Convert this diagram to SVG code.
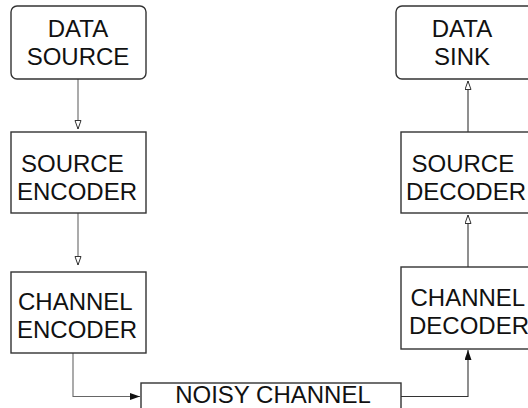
<svg xmlns="http://www.w3.org/2000/svg" width="528" height="408" viewBox="0 0 528 408">
<style>
.box{fill:#fff;stroke:#333;stroke-width:1.4}
.t{font-family:"Liberation Sans",Arial,sans-serif;font-size:24px;fill:#111}
.c{fill:none;stroke:#333;stroke-width:1.1}
.g{stroke:#666}
</style>
<defs>
<marker id="open" markerWidth="10" markerHeight="8" refX="9" refY="3.5" orient="auto" markerUnits="userSpaceOnUse">
<path d="M0.5,0.5 L9,3.5 L0.5,6.5 Z" fill="#fff" stroke="#333" stroke-width="1"/>
</marker>
<marker id="fill" markerWidth="11" markerHeight="8" refX="10" refY="3.5" orient="auto" markerUnits="userSpaceOnUse">
<path d="M0,0 L10,3.5 L0,7 Z" fill="#111"/>
</marker>
</defs>
<g id="connectors">
<path class="c g" d="M78,79 V129" marker-end="url(#open)"/>
<path class="c g" d="M78,213 V265" marker-end="url(#open)"/>
<path class="c g" d="M73,353 V396.5 H140" marker-end="url(#fill)"/>
<path class="c" d="M401,396.5 H468 V350" marker-end="url(#fill)"/>
<path class="c" d="M468,267 V215" marker-end="url(#open)"/>
<path class="c" d="M468,132 V81" marker-end="url(#open)"/>
</g>
<g id="data-source">
<rect class="box" x="11" y="6" width="135" height="73" rx="6"/>
<text class="t" x="78" y="36.5" text-anchor="middle">DATA</text>
<text class="t" x="78" y="65" text-anchor="middle">SOURCE</text>
</g>
<g id="source-encoder">
<rect class="box" x="11" y="132" width="135" height="81"/>
<text class="t" x="21" y="171.5">SOURCE</text>
<text class="t" x="17" y="199.5">ENCODER</text>
</g>
<g id="channel-encoder">
<rect class="box" x="11" y="272" width="135" height="81"/>
<text class="t" x="18" y="309.5">CHANNEL</text>
<text class="t" x="17" y="337.5">ENCODER</text>
</g>
<g id="noisy-channel">
<rect class="box" x="141" y="383" width="260" height="40"/>
<text class="t" x="273" y="403" text-anchor="middle">NOISY CHANNEL</text>
</g>
<g id="channel-decoder">
<rect class="box" x="401" y="267" width="140" height="82"/>
<text class="t" x="410.5" y="305.5">CHANNEL</text>
<text class="t" x="409" y="334">DECODER</text>
</g>
<g id="source-decoder">
<rect class="box" x="401" y="132" width="140" height="81"/>
<text class="t" x="411.5" y="171.5">SOURCE</text>
<text class="t" x="406" y="200">DECODER</text>
</g>
<g id="data-sink">
<rect class="box" x="396" y="6" width="145" height="73" rx="6"/>
<text class="t" x="462" y="36.5" text-anchor="middle">DATA</text>
<text class="t" x="462" y="65" text-anchor="middle">SINK</text>
</g>
</svg>
